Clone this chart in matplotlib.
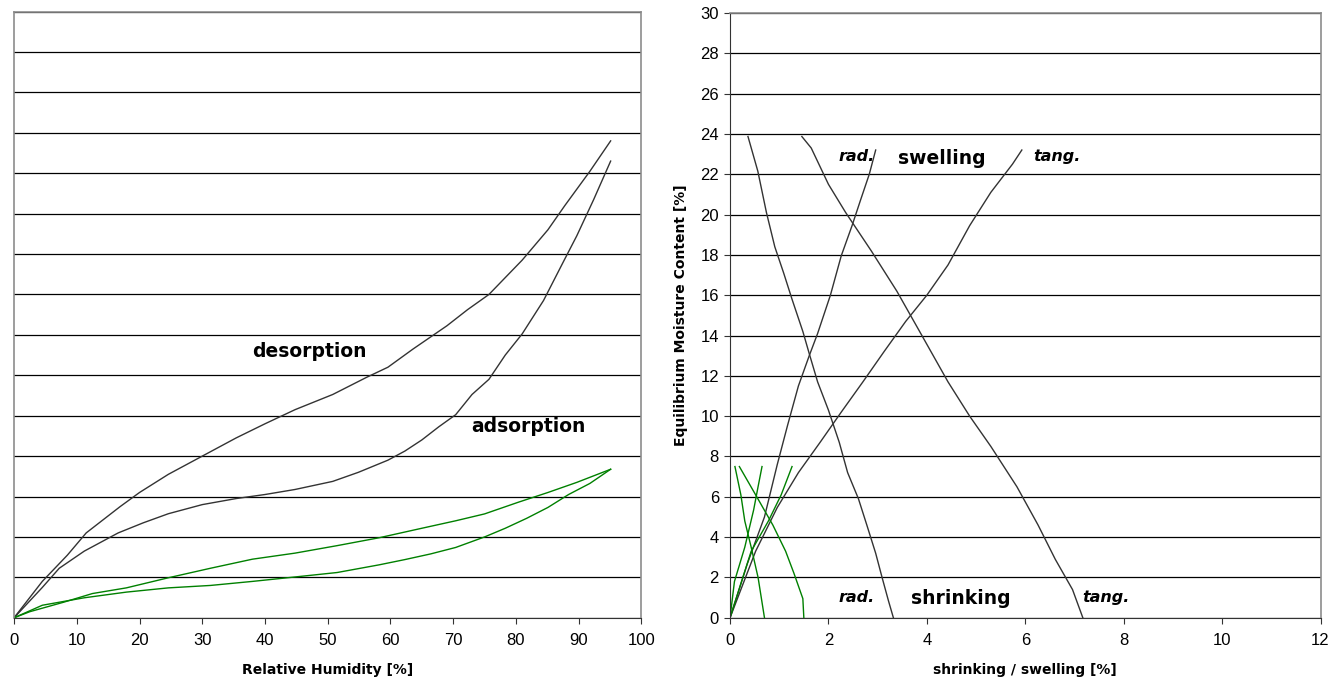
import numpy as np
import matplotlib
matplotlib.use('Agg')
import matplotlib.pyplot as plt

# left chart: sorption isotherms (x = relative humidity %, y = EMC %)
des_rh = [0, 4.5, 8.5, 11.5, 16.9, 20, 24.6, 30, 35.4, 40, 44.8, 50.8, 56.2, 59.6, 63.6, 69,
          72.3, 75.7, 81, 85.1, 87.8, 91.8, 95.1]
des_emc = [0, 1.8, 3.1, 4.2, 5.5, 6.2, 7.1, 8.0, 8.9, 9.6, 10.3, 11.05, 11.9, 12.4, 13.3, 14.45,
           15.25, 16.0, 17.7, 19.2, 20.4, 22.1, 23.6]
ads_rh = [0, 4.5, 7.2, 11.2, 16.6, 20.6, 24.6, 30, 35.4, 40, 44.8, 50.8, 54.9, 59.6, 62.3, 65,
          67.7, 70.4, 73, 75.7, 78.3, 81, 84.4, 87.7, 89.7, 92.4, 95.1]
ads_emc = [0, 1.5, 2.45, 3.3, 4.2, 4.7, 5.15, 5.6, 5.9, 6.1, 6.35, 6.75, 7.2, 7.8, 8.25, 8.8,
           9.45, 10.05, 11.05, 11.8, 13.0, 14.05, 15.7, 17.7, 18.9, 20.7, 22.6]
des2_rh = [0, 2.5, 7.9, 12.5, 17.9, 24.6, 31.3, 38, 44.8, 51.5, 58.2, 65, 70.4, 75, 80.4, 85.1,
           89.7, 95.1]
des2_emc = [0, 0.3, 0.77, 1.2, 1.48, 1.98, 2.45, 2.9, 3.2, 3.57, 3.96, 4.43, 4.8, 5.14, 5.72,
            6.2, 6.7, 7.35]
ads2_rh = [0, 4.5, 11.2, 17.9, 24.6, 31.3, 38, 44.8, 51.5, 58.2, 62.3, 66.4, 70.4, 75, 78.3,
           81.7, 85.1, 88.4, 91.8, 95.1]
ads2_emc = [0, 0.62, 0.99, 1.27, 1.48, 1.6, 1.8, 2.02, 2.24, 2.62, 2.88, 3.16, 3.48, 4.0, 4.43,
            4.92, 5.46, 6.1, 6.65, 7.35]

# right chart: shrinking / swelling (x = %, y = EMC %)
rad_shr_x = [0.365, 0.565, 0.74, 0.91, 1.09, 1.26, 1.48, 1.61, 1.78, 2.0, 2.22, 2.39, 2.61,
             2.78, 2.96, 3.09, 3.22, 3.32]
rad_shr_y = [23.87, 22.15, 20.1, 18.4, 17.1, 15.8, 14.2, 13.1, 11.7, 10.3, 8.7, 7.2, 5.9,
             4.6, 3.2, 2.0, 0.84, 0]
tang_shr_x = [1.46, 1.65, 2.0, 2.35, 2.87, 3.39, 3.83, 4.13, 4.43, 4.87, 5.3, 5.83, 6.26,
              6.61, 6.96, 7.17]
tang_shr_y = [23.87, 23.3, 21.5, 20.1, 18.2, 16.2, 14.3, 13.0, 11.7, 10.0, 8.5, 6.5, 4.6,
              2.9, 1.4, 0]
rad_sw_x = [0, 0.35, 0.7, 0.96, 1.17, 1.39, 1.61, 1.78, 2.04, 2.26, 2.48, 2.65, 2.83, 2.96]
rad_sw_y = [0, 2.67, 5.0, 7.6, 9.55, 11.5, 13.0, 14.1, 16.0, 17.95, 19.45, 20.7, 22.0, 23.2]
tang_sw_x = [0, 0.52, 0.96, 1.39, 1.83, 2.26, 2.7, 3.13, 3.57, 4.0, 4.43, 4.87, 5.3, 5.74, 5.93]
tang_sw_y = [0, 3.3, 5.47, 7.2, 8.7, 10.2, 11.7, 13.2, 14.7, 16.0, 17.5, 19.45, 21.1, 22.5, 23.2]

g_rad_shr_x = [0.1, 0.22, 0.3, 0.43, 0.57, 0.7]
g_rad_shr_y = [7.5, 6.1, 4.8, 3.5, 2.0, 0]
g_tang_shr_x = [0.19, 0.52, 0.87, 1.13, 1.3, 1.48, 1.5]
g_tang_shr_y = [7.5, 6.1, 4.6, 3.3, 2.2, 0.95, 0]
g_rad_sw_x = [0, 0.09, 0.3, 0.48, 0.57, 0.65]
g_rad_sw_y = [0, 1.8, 3.5, 5.35, 6.5, 7.5]
g_tang_sw_x = [0, 0.43, 0.78, 1.04, 1.26]
g_tang_sw_y = [0, 3.3, 4.8, 6.1, 7.5]

dark = '#333333'
green = '#008000'
frame = '#8c8c8c'
tick_font = 'Liberation Sans'

fig = plt.figure(figsize=(13.39, 6.8), dpi=100)
ax1 = fig.add_axes([0.0105, 0.0915, 0.4685, 0.8915])
ax2 = fig.add_axes([0.5452, 0.0915, 0.4410, 0.8895])


def style_axes(ax, xmax, xstep):
    ax.set_ylim(0, 30)
    ax.set_xlim(0, xmax)
    ax.set_xticks(np.arange(0, xmax + 0.01, xstep))
    ax.set_yticks(np.arange(0, 31, 2))
    ax.grid(axis='y', color='black', linewidth=0.9)
    ax.set_axisbelow(True)
    for s in ['top', 'right']:
        ax.spines[s].set_color(frame)
        ax.spines[s].set_linewidth(1.2)
    ax.spines['bottom'].set_color(dark)
    ax.tick_params(axis='x', direction='out', length=4, color=dark, pad=7)
    for lab in ax.get_xticklabels() + ax.get_yticklabels():
        lab.set_fontfamily(tick_font)
        lab.set_fontsize(12)


# left chart
style_axes(ax1, 100, 10)
ax1.spines['left'].set_color(frame)
ax1.spines['left'].set_linewidth(1.2)
ax1.tick_params(axis='y', left=False, labelleft=False)
ax1.plot(des_rh, des_emc, color=dark, linewidth=1.0)
ax1.plot(ads_rh, ads_emc, color=dark, linewidth=1.0)
ax1.plot(des2_rh, des2_emc, color=green, linewidth=1.0)
ax1.plot(ads2_rh, ads2_emc, color=green, linewidth=1.0)
ax1.text(47.1, 13.2, 'desorption', fontsize=13.5, fontweight='bold', ha='center', va='center')
ax1.text(82, 9.45, 'adsorption', fontsize=13.5, fontweight='bold', ha='center', va='center')
ax1.set_xlabel('Relative Humidity [%]', fontsize=10, fontweight='bold', labelpad=11)

# right chart
style_axes(ax2, 12, 2)
ax2.spines['left'].set_color(dark)
ax2.tick_params(axis='y', direction='out', length=4, color=dark, pad=4)
for lab in ax2.get_yticklabels():
    lab.set_fontfamily(tick_font)
    lab.set_fontsize(12)
ax2.plot(rad_shr_x, rad_shr_y, color=dark, linewidth=1.0)
ax2.plot(tang_shr_x, tang_shr_y, color=dark, linewidth=1.0)
ax2.plot(rad_sw_x, rad_sw_y, color=dark, linewidth=1.0)
ax2.plot(tang_sw_x, tang_sw_y, color=dark, linewidth=1.0)
ax2.plot(g_rad_shr_x, g_rad_shr_y, color=green, linewidth=1.0)
ax2.plot(g_tang_shr_x, g_tang_shr_y, color=green, linewidth=1.0)
ax2.plot(g_rad_sw_x, g_rad_sw_y, color=green, linewidth=1.0)
ax2.plot(g_tang_sw_x, g_tang_sw_y, color=green, linewidth=1.0)
ax2.text(2.57, 22.9, 'rad.', fontsize=11.5, fontweight='bold', style='italic', ha='center', va='center')
ax2.text(4.3, 22.8, 'swelling', fontsize=13.5, fontweight='bold', ha='center', va='center')
ax2.text(6.65, 22.9, 'tang.', fontsize=11.5, fontweight='bold', style='italic', ha='center', va='center')
ax2.text(2.57, 1.0, 'rad.', fontsize=11.5, fontweight='bold', style='italic', ha='center', va='center')
ax2.text(4.7, 0.95, 'shrinking', fontsize=13.5, fontweight='bold', ha='center', va='center')
ax2.text(7.65, 1.0, 'tang.', fontsize=11.5, fontweight='bold', style='italic', ha='center', va='center')
ax2.set_xlabel('shrinking / swelling [%]', fontsize=10, fontweight='bold', labelpad=11)
ax2.set_ylabel('Equilibrium Moisture Content [%]', fontsize=10, fontweight='bold', labelpad=9)

fig.savefig('out.png', dpi=100)
